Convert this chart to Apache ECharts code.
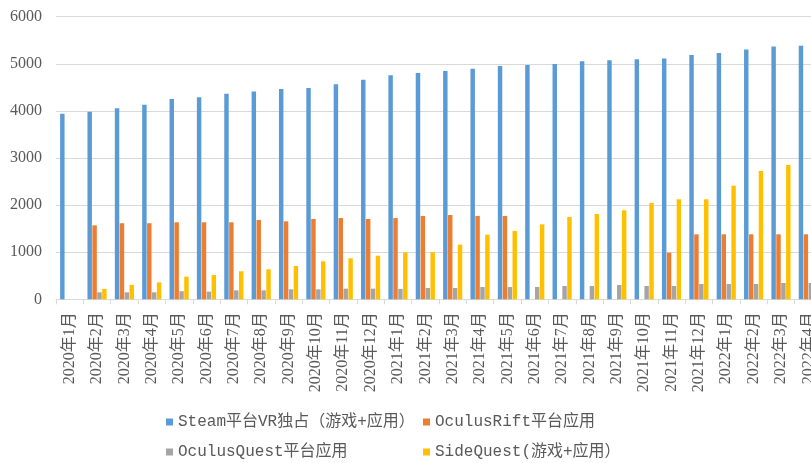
<!DOCTYPE html>
<html>
<head>
<meta charset="utf-8">
<script src="https://cdn.jsdelivr.net/npm/echarts@6/dist/echarts.min.js"></script>
<style>html,body{margin:0;padding:0;background:#fff}#c{width:811px;height:463px}</style>
</head>
<body>
<div id="c"></div>
<script>
const categories = [
  '2020年1月','2020年2月','2020年3月','2020年4月','2020年5月','2020年6月','2020年7月','2020年8月','2020年9月','2020年10月','2020年11月','2020年12月',
  '2021年1月','2021年2月','2021年3月','2021年4月','2021年5月','2021年6月','2021年7月','2021年8月','2021年9月','2021年10月','2021年11月','2021年12月',
  '2022年1月','2022年2月','2022年3月','2022年4月'
];
const seriesNames = ['Steam平台VR独占（游戏+应用）','OculusRift平台应用','OculusQuest平台应用','SideQuest(游戏+应用）'];
const steam = [3940,3980,4055,4130,4250,4290,4365,4410,4465,4485,4565,4660,4755,4805,4845,4895,4955,4975,4995,5055,5075,5095,5115,5185,5230,5305,5365,5385];
const oculusRift = [null,1570,1615,1615,1635,1635,1635,1685,1655,1705,1725,1705,1725,1770,1790,1770,1770,null,null,null,null,null,990,1380,1380,1380,1380,1380];
const oculusQuest = [null,148,148,148,172,162,190,190,212,212,226,226,222,240,240,261,261,261,282,282,304,282,282,325,325,325,346,346];
const sideQuest = [null,220,305,360,480,515,595,637,707,807,870,926,998,998,1160,1372,1450,1592,1747,1811,1890,2045,2123,2123,2412,2724,2851,2900];
const yTicks = [0,1000,2000,3000,4000,5000,6000];

const colors = ['#5b9bd5','#ed7d31','#a5a5a5','#ffc000'];
const values = [steam, oculusRift, oculusQuest, sideQuest];
const serifFont = "'Liberation Serif', 'Noto Sans CJK SC', serif";
const monoFont = "'Liberation Mono', 'Noto Sans CJK SC', monospace";

const chart = echarts.init(document.getElementById('c'), null, {renderer:'canvas'});
const legendPos = [[166,414],[423,414],[166,444],[423,444]];
const option = {
  animation: false,
  color: colors,
  grid: {left: 56, width: 766, top: 16.7, height: 282.6, containLabel: false, outerBoundsMode: 'none'},
  legend: seriesNames.map((n,i)=>({
    data:[n], left: legendPos[i][0], top: legendPos[i][1], padding: 0, icon:'rect', itemWidth:7, itemHeight:7, itemGap: 4,
    textStyle:{fontFamily: monoFont, fontSize:16, color:'#595959'}
  })),
  xAxis: {
    type:'category', data: categories,
    axisLine:{lineStyle:{color:'#d9d9d9', width:1}},
    axisTick:{show:true, length:5, lineStyle:{color:'#d9d9d9'}},
    axisLabel:{rotate:90, interval:0, margin:13, fontFamily: serifFont, fontSize:16, color:'#595959'}
  },
  yAxis: {
    type:'value', min: yTicks[0], max: yTicks[yTicks.length-1], interval: 1000,
    axisLine:{show:false}, axisTick:{show:false},
    splitLine:{lineStyle:{color:'#d9d9d9', width:1}},
    axisLabel:{margin:14, fontFamily: serifFont, fontSize:16, color:'#595959', formatter: v => String(v)}
  },
  series: seriesNames.map((n,i)=>({
    name:n, type:'bar', data: values[i], barGap:'10%', barCategoryGap:'30%',
    itemStyle:{color:colors[i]}
  }))
};
chart.setOption(option);
</script>
</body>
</html>
